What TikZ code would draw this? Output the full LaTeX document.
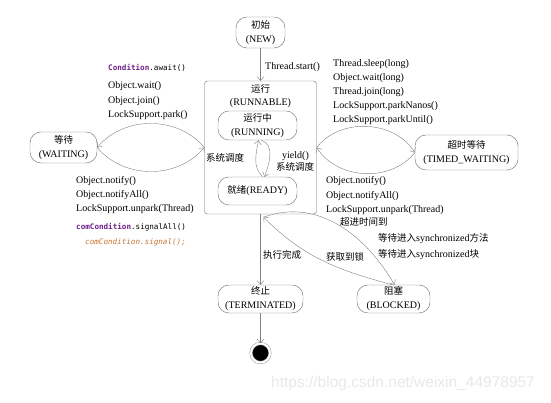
\documentclass[tikz,border=0pt]{standalone}
\usepackage{fontspec}
\setmainfont{Liberation Serif}
\setmonofont{DejaVu Sans Mono}
\newfontfamily\cjk{Noto Sans CJK SC}
\newfontfamily\wmfont{Liberation Sans}
\usepackage{xcolor}
\usetikzlibrary{positioning, arrows.meta, shapes}
\definecolor{kwpurple}{HTML}{6E1F8A}
\definecolor{codeorange}{HTML}{C87533}
\newcommand{\zh}[1]{{\cjk\fontsize{9.5}{14}\selectfont #1}}

\begin{document}
\begin{tikzpicture}[x=1pt, y=1pt,
    state/.style={draw=gray!85!black, rounded corners=11pt, align=center, inner sep=1pt, font=\fontsize{10}{14}\selectfont},
    trans/.style={draw=gray, -{Straight Barb[length=4pt,width=7pt]}},
    lbl/.style={anchor=base west, inner sep=0pt, font=\fontsize{10}{12}\selectfont},
    code/.style={anchor=base west, inner sep=0pt, font=\ttfamily\fontsize{7.6}{9}\selectfont}]

    \useasboundingbox (0,0) rectangle (551,403);

    % states
    \node[state, minimum width=49pt, minimum height=31pt] (new) at (260.5,370.5) {\zh{初始}\\(NEW)};
    \node[draw=gray!85!black, rounded corners=3pt, minimum width=112pt, minimum height=133pt] (runnable) at (260.5,255.5) {};
    \node[align=center, inner sep=0pt, font=\fontsize{10}{13}\selectfont] (runtitle) at (260.5,306.5) {\zh{运行}\\(RUNNABLE)};
    \node[state, minimum width=79pt, minimum height=29pt] (running) at (257.5,277.5) {\zh{运行中}\\(RUNNING)};
    \node[state, minimum width=79pt, minimum height=28pt] (ready) at (257.5,212) {\zh{就绪}(READY)};
    \node[state, minimum width=67pt, minimum height=31pt] (waiting) at (63.5,255.5) {\zh{等待}\\(WAITING)};
    \node[state, minimum width=103pt, minimum height=35pt] (timed) at (466.5,250.5) {\zh{超时等待}\\(TIMED\_WAITING)};
    \node[state, minimum width=85pt, minimum height=28pt] (terminated) at (260.5,104) {\zh{终止}\\(TERMINATED)};
    \node[state, minimum width=73pt, minimum height=28pt] (blocked) at (393.5,104) {\zh{阻塞}\\(BLOCKED)};
    \node[circle, fill=black, draw=gray!80, double=white, double distance=2pt, line width=0.5pt, minimum size=19pt, inner sep=0pt] (final) at (260.5,50) {};

    % transitions
    \draw[trans] (new.south) -- (runnable.north);
    \draw[trans] (runnable.south) -- (terminated.north);
    \draw[trans] (terminated.south) -- (final.north);

    \draw[trans] ([xshift=5pt]ready.north) to[out=135,in=-100] ([xshift=1pt]running.south);
    \draw[trans] ([xshift=4pt]running.south) to[out=-20,in=70] ([xshift=7pt]ready.north);

    \draw[trans] (runnable.west) to[bend right=50] (waiting.east);
    \draw[trans] (waiting.east) to[bend right=50] (runnable.west);
    \draw[trans] (runnable.east) to[bend left=55] (timed.west);
    \draw[trans] (timed.west) to[bend left=55] (runnable.east);

    \coordinate (rbot) at ([xshift=3pt,yshift=-3pt]runnable.south);
    \draw[trans] (rbot) to[out=20,in=120] ([xshift=1pt]blocked.north);
    \draw[trans] ([xshift=-1pt]blocked.north) to[out=165,in=-45] (rbot);

    % labels
    \node[lbl] (startlbl) at (265,333.5) {Thread.start()};
    \node[lbl] (sched1) at (206,241.5) {\zh{系统调度}};
    \node[lbl] (yieldlbl) at (282,244.5) {yield()};
    \node[lbl] (sched2) at (276,232.5) {\zh{系统调度}};

    \node[code] (await) at (108,332) {\textcolor{kwpurple}{\textbf{Condition}}.await()};
    \node[lbl] (wait) at (108,314.5) {Object.wait()};
    \node[lbl] (join) at (108,299.5) {Object.join()};
    \node[lbl] (park) at (108,285.5) {LockSupport.park()};

    \node[lbl] (notify) at (76,219.5) {Object.notify()};
    \node[lbl] (notifyall) at (76,205.5) {Object.notifyAll()};
    \node[lbl] (unpark) at (76,191.5) {LockSupport.unpark(Thread)};
    \node[code] (signalall) at (76,173) {\textcolor{kwpurple}{\textbf{comCondition}}.signalAll()};
    \node[code, text=codeorange] (signal) at (85,158) {\itshape comCondition.signal();};

    \node[lbl] (sleep) at (333,336.5) {Thread.sleep(long)};
    \node[lbl] (waitlong) at (333,322.5) {Object.wait(long)};
    \node[lbl] (joinlong) at (333,308.5) {Thread.join(long)};
    \node[lbl] (nanos) at (333,294.5) {LockSupport.parkNanos()};
    \node[lbl] (until) at (333,280.5) {LockSupport.parkUntil()};

    \node[lbl] (tnotify) at (326,219.5) {Object.notify()};
    \node[lbl] (tnotifyall) at (326,204.5) {Object.notifyAll()};
    \node[lbl] (tunpark) at (326,190.5) {LockSupport.unpark(Thread)};
    \node[lbl] (timeout) at (340,177.5) {\zh{超进时间到}};

    \node[lbl] (syncmethod) at (378,161.5) {\zh{等待进入}synchronized\zh{方法}};
    \node[lbl] (syncblock) at (378,145.5) {\zh{等待进入}synchronized\zh{块}};
    \node[lbl] (done) at (263,144.5) {\zh{执行完成}};
    \node[lbl] (getlock) at (326,142.5) {\zh{获取到锁}};

    \node[anchor=base west, inner sep=0pt, text=gray!18, font=\wmfont\fontsize{15.5}{18}\selectfont] (mark) at (271,15.5) {https://blog.csdn.net/weixin\_44978957};
\end{tikzpicture}
\end{document}
